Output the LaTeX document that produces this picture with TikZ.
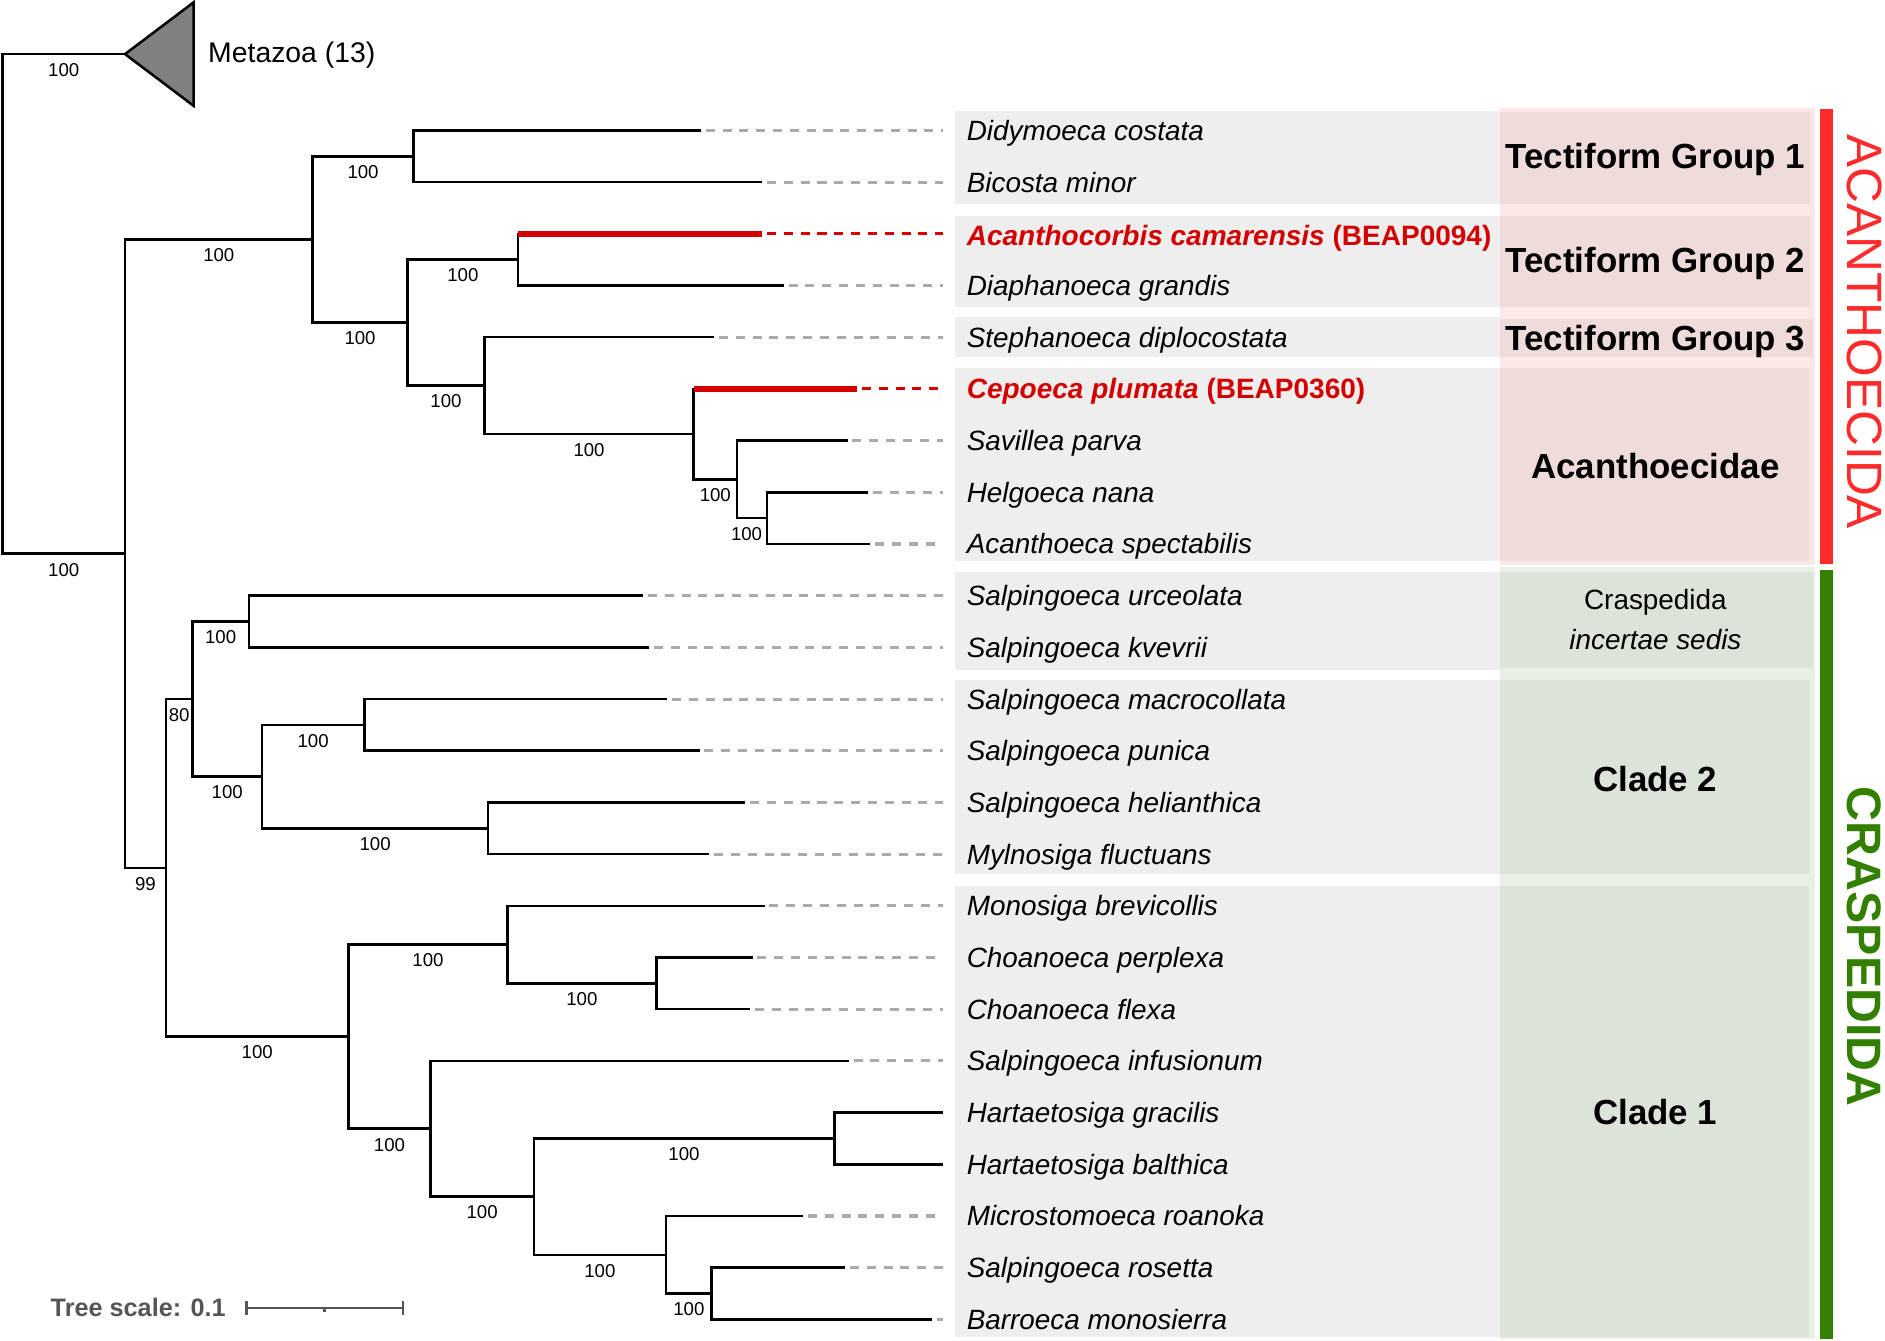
\documentclass[tikz,border=0pt]{standalone}
\usepackage{fontspec}
\setmainfont{Liberation Sans}
\definecolor{rowgrey}{HTML}{EEEEEE}
\definecolor{pinkL}{HTML}{FDE8E8}
\definecolor{pinkD}{HTML}{F0DBDB}
\definecolor{greenL}{HTML}{E8EFE4}
\definecolor{greenD}{HTML}{DCE3D8}
\definecolor{acred}{HTML}{FF2A2A}
\definecolor{crgreen}{HTML}{338000}
\definecolor{spred}{HTML}{D40000}
\definecolor{dgrey}{HTML}{AAAAAA}
\definecolor{scgrey}{HTML}{555555}
\definecolor{mzgrey}{HTML}{808080}
\begin{document}
\begin{tikzpicture}[x=1pt,y=-1pt,
  br/.style={line width=2.1pt, black, line join=miter},
  redbr/.style={line width=5.5pt, spred},
  dsh/.style={line width=2.6pt, dgrey, dash pattern=on 7.5pt off 6.5pt, shorten <=4pt, shorten >=20pt},
  rdsh/.style={dsh, spred},
  bsl/.style={inner sep=0pt, text height=11.1pt, text depth=0pt, font=\fontsize{15.5}{15.5}\selectfont},
  sp/.style={anchor=west, inner sep=0pt, text height=16.6pt, text depth=0pt, font=\fontsize{23.2}{27}\selectfont\itshape},
  spr/.style={sp, text=spred, font=\fontsize{23.3}{27}\selectfont\bfseries},
  grp/.style={inner sep=0pt, text height=20.8pt, text depth=0pt, font=\bfseries\fontsize{29}{34}\selectfont},
  grpsm/.style={inner sep=0pt, text height=16.6pt, text depth=0pt, font=\fontsize{23.2}{27}\selectfont},
  scbar/.style={line width=2pt, scgrey}
]
\useasboundingbox (0,0) rectangle (1568,1115);

% ---------- backgrounds ----------
\fill[rowgrey] (794,92) rectangle (1248,170);
\fill[rowgrey] (794,180) rectangle (1248,255);
\fill[rowgrey] (794,264) rectangle (1248,297);
\fill[rowgrey] (794,306) rectangle (1248,467);
\fill[rowgrey] (794,476) rectangle (1248,557);
\fill[rowgrey] (794,566) rectangle (1248,727);
\fill[rowgrey] (794,737) rectangle (1248,1112);

\fill[pinkL] (1248,90) rectangle (1510,470);
\fill[pinkD] (1248,93) rectangle (1506,170);
\fill[pinkD] (1248,180) rectangle (1506,255);
\fill[pinkD] (1248,265) rectangle (1508,297);
\fill[pinkD] (1248,306) rectangle (1505,467);

\fill[greenL] (1248,472) rectangle (1510,1114);
\fill[greenD] (1248,476) rectangle (1508,556);
\fill[greenD] (1248,566) rectangle (1506,727);
\fill[greenD] (1248,737) rectangle (1505,1112);

\fill[acred] (1514,91) rectangle (1525,469);
\fill[crgreen] (1514,474) rectangle (1525,1114);

% ---------- internal nodes ----------
\coordinate (R) at (2,252.8);
\coordinate (Mz) at (104,45);
\coordinate (I) at (104,460.6);
\coordinate (Ac) at (260,199.2);
\coordinate (T1) at (344,130);
\coordinate (B) at (339,268.4);
\coordinate (T2) at (431,216);
\coordinate (C) at (403,320.8);
\coordinate (Ae) at (577,361.1);
\coordinate (D) at (613,398.75);
\coordinate (E) at (638,431);
\coordinate (Cr) at (138,721.9);
\coordinate (N80) at (160,581.5);
\coordinate (Inc) at (207,517);
\coordinate (C2) at (218,646);
\coordinate (M) at (303,603);
\coordinate (H) at (406,689);
\coordinate (C1) at (290,862.3);
\coordinate (Mo) at (422,785.75);
\coordinate (Ch) at (546,818);
\coordinate (L) at (358,938.9);
\coordinate (P) at (444,995.4);
\coordinate (Ha) at (694,947);
\coordinate (Q) at (554,1043.75);
\coordinate (S) at (592,1076);

% ---------- leaf tips ----------
\coordinate (t1) at (583,108.5);
\coordinate (t2) at (634,151.5);
\coordinate (t3) at (634,194.5);
\coordinate (t4) at (652,237.5);
\coordinate (t5) at (594,280.5);
\coordinate (t6) at (713,323.5);
\coordinate (t7) at (705,366.5);
\coordinate (t8) at (722,409.5);
\coordinate (t9) at (724,452.5);
\coordinate (t10) at (535,495.5);
\coordinate (t11) at (540,538.5);
\coordinate (t12) at (555,581.5);
\coordinate (t13) at (582,624.5);
\coordinate (t14) at (620,667.5);
\coordinate (t15) at (590,710.5);
\coordinate (t16) at (636,753.5);
\coordinate (t17) at (626,796.5);
\coordinate (t18) at (624,839.5);
\coordinate (t19) at (706,882.5);
\coordinate (t20) at (784,925.5);
\coordinate (t21) at (784,968.5);
\coordinate (t22) at (668,1011.5);
\coordinate (t23) at (703,1054.5);
\coordinate (t24) at (775,1097.5);

% ---------- species labels ----------
\node[sp] (s1) at (804,108.5) {Didymoeca costata};
\node[sp] (s2) at (804,151.5) {Bicosta minor};
\node[spr] (s3) at (804,196) {{\itshape Acanthocorbis camarensis} (BEAP0094)};
\node[sp] (s4) at (804,237.5) {Diaphanoeca grandis};
\node[sp] (s5) at (804,280.5) {Stephanoeca diplocostata};
\node[spr] (s6) at (804,323.5) {{\itshape Cepoeca plumata} (BEAP0360)};
\node[sp] (s7) at (804,366.5) {Savillea parva};
\node[sp] (s8) at (804,409.5) {Helgoeca nana};
\node[sp] (s9) at (804,452.5) {Acanthoeca spectabilis};
\node[sp] (s10) at (804,495.5) {Salpingoeca urceolata};
\node[sp] (s11) at (804,538.5) {Salpingoeca kvevrii};
\node[sp] (s12) at (804,581.5) {Salpingoeca macrocollata};
\node[sp] (s13) at (804,624.5) {Salpingoeca punica};
\node[sp] (s14) at (804,667.5) {Salpingoeca helianthica};
\node[sp] (s15) at (804,710.5) {Mylnosiga fluctuans};
\node[sp] (s16) at (804,753.5) {Monosiga brevicollis};
\node[sp] (s17) at (804,796.5) {Choanoeca perplexa};
\node[sp] (s18) at (804,839.5) {Choanoeca flexa};
\node[sp] (s19) at (804,882.5) {Salpingoeca infusionum};
\node[sp] (s20) at (804,925.5) {Hartaetosiga gracilis};
\node[sp] (s21) at (804,968.5) {Hartaetosiga balthica};
\node[sp] (s22) at (804,1011.5) {Microstomoeca roanoka};
\node[sp] (s23) at (804,1054.5) {Salpingoeca rosetta};
\node[sp] (s24) at (804,1097.5) {Barroeca monosierra};

% ---------- dashed leaf connectors ----------
\draw[dsh] (t1) -- (s1.west);
\draw[dsh] (t2) -- (s2.west);
\draw[rdsh] (t3) -- (s3.west |- t3);
\draw[dsh] (t4) -- (s4.west);
\draw[dsh] (t5) -- (s5.west);
\draw[rdsh] (t6) -- (s6.west);
\draw[dsh] (t7) -- (s7.west);
\draw[dsh] (t8) -- (s8.west);
\draw[dsh] (t9) -- (s9.west);
\draw[dsh] (t10) -- (s10.west);
\draw[dsh] (t11) -- (s11.west);
\draw[dsh] (t12) -- (s12.west);
\draw[dsh] (t13) -- (s13.west);
\draw[dsh] (t14) -- (s14.west);
\draw[dsh] (t15) -- (s15.west);
\draw[dsh] (t16) -- (s16.west);
\draw[dsh] (t17) -- (s17.west);
\draw[dsh] (t18) -- (s18.west);
\draw[dsh] (t19) -- (s19.west);
\draw[dsh] (t22) -- (s22.west);
\draw[dsh] (t23) -- (s23.west);
\draw[dsh] (t24) -- (s24.west);

% ---------- tree branches ----------
\draw[br] (Mz) -| (R) |- (I);
\draw[br, fill=mzgrey] (Mz) -- (161,2) -- (161,88) -- cycle;
\draw[br] (Ac) -| (I) |- (Cr);
\draw[br] (T1) -| (Ac) |- (B);
\draw[br] (t1) -| (T1) |- (t2);
\draw[br] (T2) -| (B) |- (C);
\draw[br] (t3) -| (T2) |- (t4);
\draw[redbr] (T2 |- t3) -- (t3);
\draw[br] (t5) -| (C) |- (Ae);
\draw[br] (t6) -| (Ae) |- (D);
\draw[redbr] (Ae |- t6) -- (t6);
\draw[br] (t7) -| (D) |- (E);
\draw[br] (t8) -| (E) |- (t9);

\draw[br] (N80) -| (Cr) |- (C1);
\draw[br] (Inc) -| (N80) |- (C2);
\draw[br] (t10) -| (Inc) |- (t11);
\draw[br] (M) -| (C2) |- (H);
\draw[br] (t12) -| (M) |- (t13);
\draw[br] (t14) -| (H) |- (t15);
\draw[br] (Mo) -| (C1) |- (L);
\draw[br] (t16) -| (Mo) |- (Ch);
\draw[br] (t17) -| (Ch) |- (t18);
\draw[br] (t19) -| (L) |- (P);
\draw[br] (Ha) -| (P) |- (Q);
\draw[br] (t20) -| (Ha) |- (t21);
\draw[br] (t22) -| (Q) |- (S);
\draw[br] (t23) -| (S) |- (t24);

% ---------- bootstrap values ----------
\node[bsl] (bmz) at (53,58) {100};
\node[bsl] (bi) at (53,474) {100};
\node[bsl] (bac) at (182,212.2) {100};
\node[bsl] (bt1) at (302,143) {100};
\node[bsl] (bb) at (299.5,281.4) {100};
\node[bsl] (bt2) at (385,229) {100};
\node[bsl] (bc) at (371,333.8) {100};
\node[bsl] (bae) at (490,374.1) {100};
\node[bsl] (bd) at (595,411.75) {100};
\node[bsl] (be) at (621,444) {100};
\node[bsl] (bcr) at (121,734.9) {99};
\node[bsl] (b80) at (149,594.5) {80};
\node[bsl] (binc) at (183.5,530) {100};
\node[bsl] (bc2) at (189,659) {100};
\node[bsl] (bm) at (260.5,616) {100};
\node[bsl] (bh) at (312,702) {100};
\node[bsl] (bc1) at (214,875.3) {100};
\node[bsl] (bmo) at (356,798.75) {100};
\node[bsl] (bch) at (484,831) {100};
\node[bsl] (bl) at (324,951.9) {100};
\node[bsl] (bp) at (401,1008.4) {100};
\node[bsl] (bha) at (569,960) {100};
\node[bsl] (bq) at (499,1056.75) {100};
\node[bsl] (bss) at (573,1089) {100};

% ---------- Metazoa label ----------
\node[sp, text height=16.8pt, font=\fontsize{23.6}{27}\selectfont] (mzl) at (173,44) {Metazoa (13)};

% ---------- group labels ----------
\node[grp] (g1) at (1377,130) {Tectiform Group 1};
\node[grp] (g2) at (1377,216) {Tectiform Group 2};
\node[grp] (g3) at (1377,281) {Tectiform Group 3};
\node[grp] (g4) at (1377,388) {Acanthoecidae};
\node[grpsm] (g5a) at (1377,499) {Craspedida};
\node[grpsm, font=\fontsize{23.2}{27}\selectfont\itshape] (g5b) at (1377,532) {incertae sedis};
\node[grp] (g6) at (1377,648) {Clade 2};
\node[grp] (g7) at (1377,925) {Clade 1};

\node[rotate=-90, inner sep=0pt, text=acred, font=\fontsize{41.3}{41}\selectfont] (acl) at (1551,276) {ACANTHOECIDA};
\node[rotate=-90, inner sep=0pt, text=crgreen, font=\bfseries\fontsize{40.2}{40}\selectfont] (crl) at (1551,787.5) {CRASPEDIDA};

% ---------- tree scale ----------
\node[anchor=west, inner sep=0pt, text height=15pt, text depth=0pt, text=scgrey, font=\bfseries\fontsize{21}{21}\selectfont] (ts) at (42,1088) {Tree scale: 0.1};
\coordinate (sb1) at (205,1088);
\coordinate (sb2) at (335,1088);
\coordinate (sbm) at (270,1088);
\draw[scbar] (sb1) -- (sb2);
\draw[scbar] ([yshift=-6pt]sb1) -- ([yshift=6pt]sb1);
\draw[scbar] ([yshift=-6pt]sb2) -- ([yshift=6pt]sb2);
\draw[scbar] (sbm) -- ([yshift=-3pt]sbm);
\end{tikzpicture}
\end{document}
